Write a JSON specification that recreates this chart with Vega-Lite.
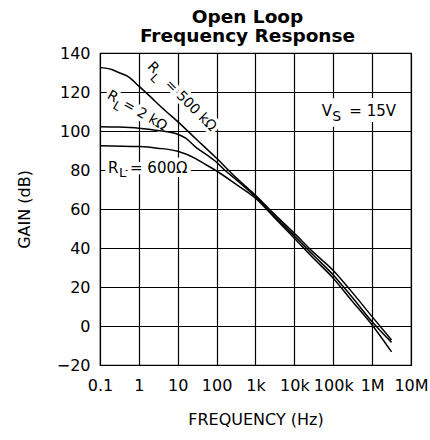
{
  "$schema": "https://vega.github.io/schema/vega-lite/v6.json",
  "width": 311,
  "height": 312,
  "autosize": {"type": "none"},
  "padding": {"left": 100, "top": 53, "right": 19, "bottom": 75},
  "background": "white",
  "title": {
    "text": ["Open Loop", "Frequency Response"],
    "font": "DejaVu Sans",
    "fontSize": 18.5,
    "fontWeight": "bold",
    "color": "black",
    "anchor": "middle",
    "lineHeight": 19,
    "offset": 0,
    "dx": -8
  },
  "datasets": {
    "curves": [
      {"f": 0.1, "g": 132.5, "load": "500k"},
      {"f": 0.2, "g": 131.5, "load": "500k"},
      {"f": 0.3, "g": 130.0, "load": "500k"},
      {"f": 0.54, "g": 127.8, "load": "500k"},
      {"f": 1, "g": 123.0, "load": "500k"},
      {"f": 2, "g": 117.5, "load": "500k"},
      {"f": 4, "g": 111.8, "load": "500k"},
      {"f": 10, "g": 104.8, "load": "500k"},
      {"f": 30, "g": 95.8, "load": "500k"},
      {"f": 100, "g": 86.0, "load": "500k"},
      {"f": 300, "g": 76.5, "load": "500k"},
      {"f": 1000, "g": 67.0, "load": "500k"},
      {"f": 3000, "g": 57.5, "load": "500k"},
      {"f": 10000, "g": 47.5, "load": "500k"},
      {"f": 30000, "g": 38.0, "load": "500k"},
      {"f": 100000, "g": 28.5, "load": "500k"},
      {"f": 300000, "g": 17.5, "load": "500k"},
      {"f": 1000000, "g": 4.8, "load": "500k"},
      {"f": 3160000, "g": -7.2, "load": "500k"},
      {"f": 0.1, "g": 102.2, "load": "2k"},
      {"f": 0.3, "g": 102.0, "load": "2k"},
      {"f": 1, "g": 101.4, "load": "2k"},
      {"f": 3, "g": 100.3, "load": "2k"},
      {"f": 10, "g": 98.3, "load": "2k"},
      {"f": 16, "g": 96.3, "load": "2k"},
      {"f": 28, "g": 92.0, "load": "2k"},
      {"f": 74, "g": 86.0, "load": "2k"},
      {"f": 100, "g": 84.0, "load": "2k"},
      {"f": 160, "g": 80.0, "load": "2k"},
      {"f": 300, "g": 75.5, "load": "2k"},
      {"f": 1000, "g": 66.3, "load": "2k"},
      {"f": 3000, "g": 56.5, "load": "2k"},
      {"f": 10000, "g": 46.2, "load": "2k"},
      {"f": 30000, "g": 36.5, "load": "2k"},
      {"f": 100000, "g": 26.2, "load": "2k"},
      {"f": 300000, "g": 15.0, "load": "2k"},
      {"f": 1000000, "g": 2.2, "load": "2k"},
      {"f": 3160000, "g": -8.4, "load": "2k"},
      {"f": 0.1, "g": 92.5, "load": "600"},
      {"f": 1, "g": 92.0, "load": "600"},
      {"f": 3, "g": 91.2, "load": "600"},
      {"f": 10, "g": 89.6, "load": "600"},
      {"f": 28, "g": 86.0, "load": "600"},
      {"f": 50, "g": 83.0, "load": "600"},
      {"f": 91, "g": 80.0, "load": "600"},
      {"f": 300, "g": 73.0, "load": "600"},
      {"f": 1000, "g": 65.5, "load": "600"},
      {"f": 3000, "g": 55.8, "load": "600"},
      {"f": 10000, "g": 45.0, "load": "600"},
      {"f": 30000, "g": 35.0, "load": "600"},
      {"f": 100000, "g": 24.5, "load": "600"},
      {"f": 300000, "g": 13.0, "load": "600"},
      {"f": 1000000, "g": 0.5, "load": "600"},
      {"f": 3160000, "g": -13.3, "load": "600"}
    ],
    "lab500": [{"f": 1.873, "g": 134.1, "main": "R", "sub": "L", "rest": "= 500 kΩ"}],
    "lab2k": [{"f": 0.1634, "g": 118.8, "main": "R", "sub": "L", "rest": "= 2 kΩ"}],
    "lab600": [{"f": 0.1607, "g": 81.0, "main": "R", "sub": "L", "rest": "=  600Ω"}],
    "labVs": [{"f": 50900, "g": 110.3, "main": "V", "sub": "S", "rest": "=  15V"}]
  },
  "encoding": {
    "x": {
      "field": "f",
      "type": "quantitative",
      "scale": {"type": "log", "domain": [0.1, 10000000], "nice": false},
      "axis": {
        "values": [0.1, 1, 10, 100, 1000, 10000, 100000, 1000000, 10000000],
        "labelExpr": "datum.value >= 1000000 ? (datum.value/1000000) + 'M' : datum.value >= 1000 ? (datum.value/1000) + 'k' : '' + datum.value",
        "ticks": false,
        "domain": false,
        "grid": true,
        "gridColor": "black",
        "gridOpacity": 1,
        "gridWidth": 1.2,
        "labelFont": "DejaVu Sans",
        "labelFontSize": 16,
        "labelColor": "black",
        "labelPadding": 12,
        "labelFlush": false,
        "labelOverlap": false,
        "labelBound": false,
        "title": "FREQUENCY (Hz)",
        "titleFont": "DejaVu Sans",
        "titleFontSize": 16,
        "titleFontWeight": "normal",
        "titleColor": "black",
        "titlePadding": 18
      }
    },
    "y": {
      "field": "g",
      "type": "quantitative",
      "scale": {"domain": [-20, 140], "nice": false, "zero": false},
      "axis": {
        "values": [-20, 0, 20, 40, 60, 80, 100, 120, 140],
        "ticks": false,
        "domain": false,
        "grid": true,
        "gridColor": "black",
        "gridOpacity": 1,
        "gridWidth": 1.2,
        "labelFont": "DejaVu Sans",
        "labelFontSize": 16,
        "labelColor": "black",
        "labelPadding": 10,
        "labelOverlap": false,
        "labelBound": false,
        "labelFlush": false,
        "title": "GAIN (dB)",
        "titleFont": "DejaVu Sans",
        "titleFontSize": 16,
        "titleFontWeight": "normal",
        "titleColor": "black",
        "titlePadding": 24
      }
    }
  },
  "layer": [
    {"data": {"name": "lab500"}, "mark": {"type": "text", "angle": 45, "align": "left", "baseline": "middle", "font": "DejaVu Sans", "fontSize": 14, "fill": "white", "stroke": "white", "strokeWidth": 7, "strokeJoin": "round"}, "encoding": {"text": {"field": "main"}}},
    {"data": {"name": "lab500"}, "mark": {"type": "text", "angle": 45, "align": "left", "baseline": "middle", "font": "DejaVu Sans", "fontSize": 12, "dx": 10, "dy": 6, "fill": "white", "stroke": "white", "strokeWidth": 7, "strokeJoin": "round"}, "encoding": {"text": {"field": "sub"}}},
    {"data": {"name": "lab500"}, "mark": {"type": "text", "angle": 45, "align": "left", "baseline": "middle", "font": "DejaVu Sans", "fontSize": 14, "dx": 25, "fill": "white", "stroke": "white", "strokeWidth": 7, "strokeJoin": "round"}, "encoding": {"text": {"field": "rest"}}},
    {"data": {"name": "lab2k"}, "mark": {"type": "text", "angle": 30, "align": "left", "baseline": "middle", "font": "DejaVu Sans", "fontSize": 14, "fill": "white", "stroke": "white", "strokeWidth": 7, "strokeJoin": "round"}, "encoding": {"text": {"field": "main"}}},
    {"data": {"name": "lab2k"}, "mark": {"type": "text", "angle": 30, "align": "left", "baseline": "middle", "font": "DejaVu Sans", "fontSize": 12, "dx": 10, "dy": 6, "fill": "white", "stroke": "white", "strokeWidth": 7, "strokeJoin": "round"}, "encoding": {"text": {"field": "sub"}}},
    {"data": {"name": "lab2k"}, "mark": {"type": "text", "angle": 30, "align": "left", "baseline": "middle", "font": "DejaVu Sans", "fontSize": 14, "dx": 18, "fill": "white", "stroke": "white", "strokeWidth": 7, "strokeJoin": "round"}, "encoding": {"text": {"field": "rest"}}},
    {"data": {"name": "lab600"}, "mark": {"type": "text", "align": "left", "baseline": "middle", "font": "DejaVu Sans", "fontSize": 15, "fill": "white", "stroke": "white", "strokeWidth": 8, "strokeJoin": "round"}, "encoding": {"text": {"field": "main"}}},
    {"data": {"name": "lab600"}, "mark": {"type": "text", "align": "left", "baseline": "middle", "font": "DejaVu Sans", "fontSize": 13, "dx": 11, "dy": 5, "fill": "white", "stroke": "white", "strokeWidth": 8, "strokeJoin": "round"}, "encoding": {"text": {"field": "sub"}}},
    {"data": {"name": "lab600"}, "mark": {"type": "text", "align": "left", "baseline": "middle", "font": "DejaVu Sans", "fontSize": 15, "dx": 22, "fill": "white", "stroke": "white", "strokeWidth": 8, "strokeJoin": "round"}, "encoding": {"text": {"field": "rest"}}},
    {"data": {"name": "labVs"}, "mark": {"type": "text", "align": "left", "baseline": "middle", "font": "DejaVu Sans", "fontSize": 15, "fill": "white", "stroke": "white", "strokeWidth": 12, "strokeJoin": "round"}, "encoding": {"text": {"field": "main"}}},
    {"data": {"name": "labVs"}, "mark": {"type": "text", "align": "left", "baseline": "middle", "font": "DejaVu Sans", "fontSize": 14, "dx": 10.5, "dy": 6.5, "fill": "white", "stroke": "white", "strokeWidth": 12, "strokeJoin": "round"}, "encoding": {"text": {"field": "sub"}}},
    {"data": {"name": "labVs"}, "mark": {"type": "text", "align": "left", "baseline": "middle", "font": "DejaVu Sans", "fontSize": 15, "dx": 27.5, "fill": "white", "stroke": "white", "strokeWidth": 12, "strokeJoin": "round"}, "encoding": {"text": {"field": "rest"}}},
    {"data": {"name": "curves"}, "mark": {"type": "line", "color": "black", "strokeWidth": 1.5, "interpolate": "monotone"}, "encoding": {"detail": {"field": "load", "type": "nominal"}}},
    {"data": {"name": "lab500"}, "mark": {"type": "text", "angle": 45, "align": "left", "baseline": "middle", "font": "DejaVu Sans", "fontSize": 14, "fill": "black"}, "encoding": {"text": {"field": "main"}}},
    {"data": {"name": "lab500"}, "mark": {"type": "text", "angle": 45, "align": "left", "baseline": "middle", "font": "DejaVu Sans", "fontSize": 12, "dx": 10, "dy": 6, "fill": "black"}, "encoding": {"text": {"field": "sub"}}},
    {"data": {"name": "lab500"}, "mark": {"type": "text", "angle": 45, "align": "left", "baseline": "middle", "font": "DejaVu Sans", "fontSize": 14, "dx": 25, "fill": "black"}, "encoding": {"text": {"field": "rest"}}},
    {"data": {"name": "lab2k"}, "mark": {"type": "text", "angle": 30, "align": "left", "baseline": "middle", "font": "DejaVu Sans", "fontSize": 14, "fill": "black"}, "encoding": {"text": {"field": "main"}}},
    {"data": {"name": "lab2k"}, "mark": {"type": "text", "angle": 30, "align": "left", "baseline": "middle", "font": "DejaVu Sans", "fontSize": 12, "dx": 10, "dy": 6, "fill": "black"}, "encoding": {"text": {"field": "sub"}}},
    {"data": {"name": "lab2k"}, "mark": {"type": "text", "angle": 30, "align": "left", "baseline": "middle", "font": "DejaVu Sans", "fontSize": 14, "dx": 18, "fill": "black"}, "encoding": {"text": {"field": "rest"}}},
    {"data": {"name": "lab600"}, "mark": {"type": "text", "align": "left", "baseline": "middle", "font": "DejaVu Sans", "fontSize": 15, "fill": "black"}, "encoding": {"text": {"field": "main"}}},
    {"data": {"name": "lab600"}, "mark": {"type": "text", "align": "left", "baseline": "middle", "font": "DejaVu Sans", "fontSize": 13, "dx": 11, "dy": 5, "fill": "black"}, "encoding": {"text": {"field": "sub"}}},
    {"data": {"name": "lab600"}, "mark": {"type": "text", "align": "left", "baseline": "middle", "font": "DejaVu Sans", "fontSize": 15, "dx": 22, "fill": "black"}, "encoding": {"text": {"field": "rest"}}},
    {"data": {"name": "labVs"}, "mark": {"type": "text", "align": "left", "baseline": "middle", "font": "DejaVu Sans", "fontSize": 15, "fill": "black"}, "encoding": {"text": {"field": "main"}}},
    {"data": {"name": "labVs"}, "mark": {"type": "text", "align": "left", "baseline": "middle", "font": "DejaVu Sans", "fontSize": 14, "dx": 10.5, "dy": 6.5, "fill": "black"}, "encoding": {"text": {"field": "sub"}}},
    {"data": {"name": "labVs"}, "mark": {"type": "text", "align": "left", "baseline": "middle", "font": "DejaVu Sans", "fontSize": 15, "dx": 27.5, "fill": "black"}, "encoding": {"text": {"field": "rest"}}}
  ],
  "config": {
    "view": {"stroke": "black", "strokeWidth": 1.2},
    "font": "DejaVu Sans"
  }
}
